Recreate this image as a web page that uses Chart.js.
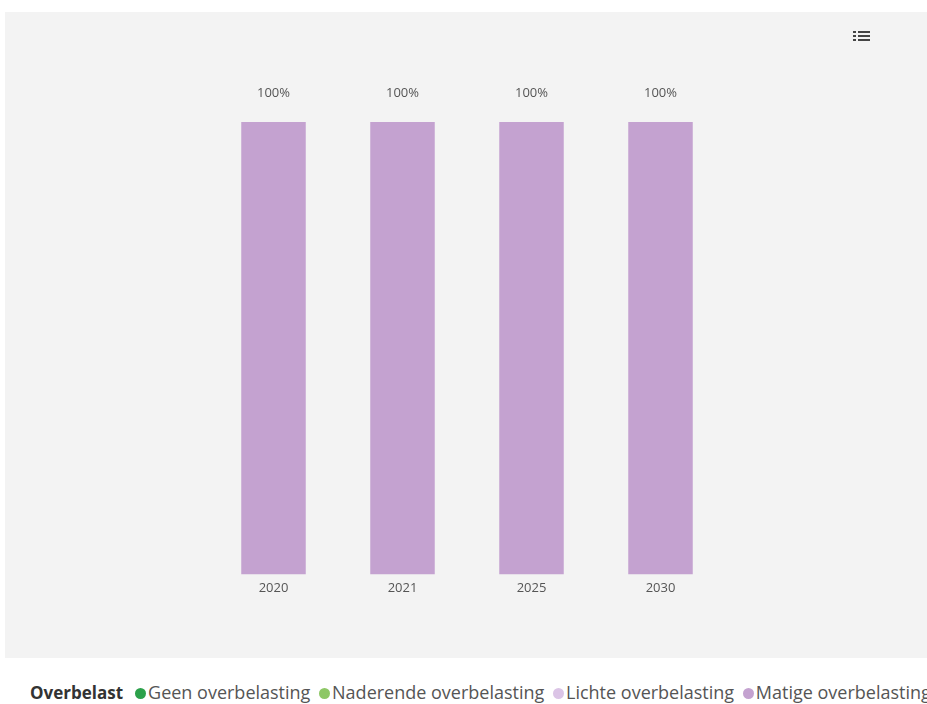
<!DOCTYPE html>
<html>
<head>
<meta charset="utf-8">
<script src="https://cdn.jsdelivr.net/npm/chart.js@4"></script>
<style>
  body { margin: 0; background: #fff; width: 927px; height: 704px; overflow: hidden; font-family: "Open Sans", sans-serif; }
  #panel { position: absolute; left: 5px; top: 12px; width: 922px; height: 646px; background: #f3f3f3; }
  #menu { position: absolute; left: 848px; top: 18px; width: 17px; height: 13px; }
  #menu span { position: absolute; height: 2px; background: #444; }
  #legend { position: absolute; left: 30px; top: 680px; white-space: nowrap; font-size: 18px; color: #555; }
  #legend b { color: #333; margin-right: 8px; font-size: 17px; }
  #legend .dot { display: inline-block; width: 11px; height: 11px; border-radius: 50%; margin: 0 2px 0 4px; vertical-align: 0px; }
</style>
</head>
<body>
<div id="panel">
  <canvas id="myChart" width="922" height="646"></canvas>
  <div id="menu">
    <span style="left:0;top:1px;width:3px"></span><span style="left:5px;top:1px;width:12px"></span>
    <span style="left:0;top:5px;width:3px"></span><span style="left:5px;top:5px;width:12px"></span>
    <span style="left:0;top:9px;width:3px"></span><span style="left:5px;top:9px;width:12px"></span>
  </div>
</div>
<div id="legend"></div>
<script>
// donnees
const jaren = ['2020', '2021', '2025', '2030'];
const reeksNamen = ['Geen overbelasting', 'Naderende overbelasting', 'Lichte overbelasting', 'Matige overbelasting'];
const reeksKleuren = ['#2ca14b', '#8dc765', '#dbc4e6', '#c4a2d0'];
const geen = [0, 0, 0, 0];
const naderende = [0, 0, 0, 0];
const lichte = [0, 0, 0, 0];
const matige = [100, 100, 100, 100];
const reeksWaarden = [geen, naderende, lichte, matige];

// legende html
let html = '<b>Overbelast</b>';
reeksNamen.forEach(function(naam, i) {
    html += '<span class="dot" style="background:' + reeksKleuren[i] + '"></span>' + naam + ' ';
});
document.getElementById('legend').innerHTML = html;

// plugin pour le total au dessus des barres
const totaalLabels = {
    id: 'totaalLabels',
    afterDatasetsDraw: function(chart) {
        const ctx = chart.ctx;
        const last = chart.getDatasetMeta(chart.data.datasets.length - 1);
        ctx.save();
        ctx.font = '13px "Open Sans"';
        ctx.fillStyle = '#555';
        ctx.textAlign = 'center';
        ctx.textBaseline = 'middle';
        last.data.forEach(function(bar, i) {
            let tot = 0;
            chart.data.datasets.forEach(function(ds) { tot += ds.data[i]; });
            ctx.fillText(tot + '%', bar.x, bar.y - 29);
        });
        ctx.restore();
    }
};

const ctx = document.getElementById('myChart').getContext('2d');
new Chart(ctx, {
    type: 'bar',
    data: {
        labels: jaren,
        datasets: reeksNamen.map(function(naam, i) {
            return {
                label: naam,
                data: reeksWaarden[i],
                backgroundColor: reeksKleuren[i],
                borderWidth: 0,
                categoryPercentage: 1,
                barPercentage: 0.5
            };
        })
    },
    options: {
        responsive: false,
        animation: false,
        layout: { padding: { left: 204, right: 202, top: 110, bottom: 64 } },
        plugins: {
            legend: { display: false },
            tooltip: { enabled: false }
        },
        scales: {
            x: {
                stacked: true,
                grid: { display: false },
                border: { display: false },
                ticks: { color: '#555', font: { family: 'Open Sans', size: 13 }, padding: -2 }
            },
            y: {
                stacked: true,
                display: false,
                min: 0,
                max: 100
            }
        }
    },
    plugins: [totaalLabels]
});
</script>
</body>
</html>
